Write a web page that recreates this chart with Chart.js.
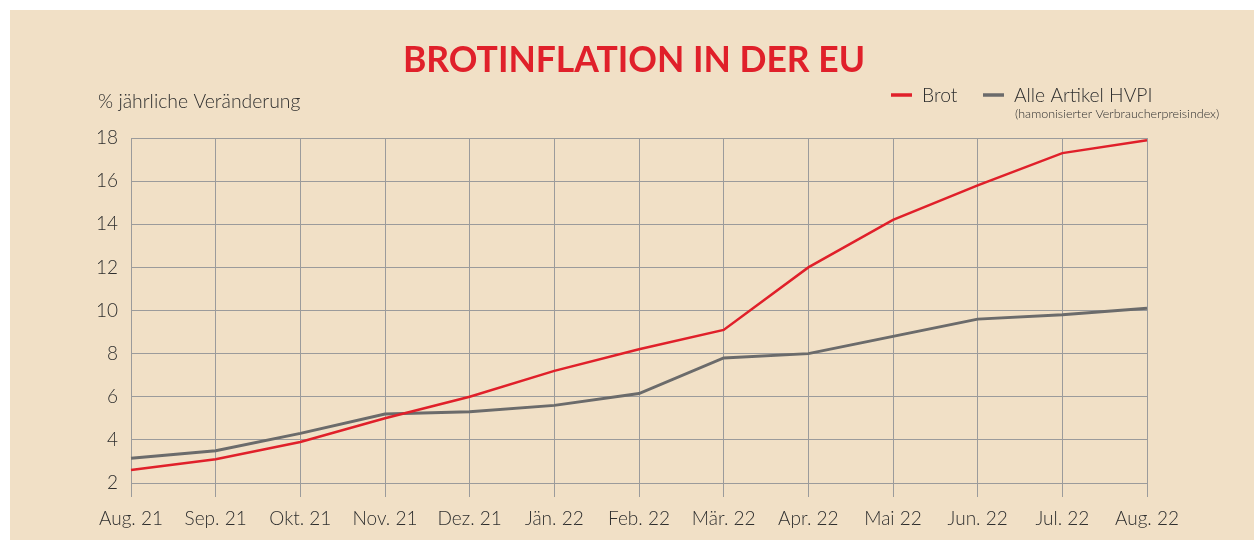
<!DOCTYPE html>
<html>
<head>
<meta charset="utf-8">
<script src="https://cdn.jsdelivr.net/npm/chart.js@4"></script>
<style>
  html, body { margin: 0; padding: 0; background: #fff; }
  #wrap { width: 1254px; height: 543px; }
</style>
</head>
<body>
<div id="wrap"><canvas id="chart" width="1254" height="543"></canvas></div>
<script>
const months = ["Aug. 21", "Sep. 21", "Okt. 21", "Nov. 21", "Dez. 21", "Jän. 22", "Feb. 22",
  "Mär. 22", "Apr. 22", "Mai 22", "Jun. 22", "Jul. 22", "Aug. 22"]
const brot = [2.6, 3.1, 3.9, 5.0, 6.0, 7.2, 8.2, 9.1, 12.0, 14.2, 15.8, 17.3, 17.9]
const hvpi = [3.15, 3.5, 4.3, 5.2, 5.3, 5.6, 6.15, 7.8, 8.0, 8.8, 9.6, 9.8, 10.1]
const yTicks = [2, 4, 6, 8, 10, 12, 14, 16, 18]

const RED = "#e0202a"
const GREY = "#6b6b6b"
const TEXT = "#2e2e2e"
const FONT = "Lato, 'Open Sans', sans-serif"

const decor = {
  id: "decor",
  beforeDraw(chart) {
    const ctx = chart.ctx
    ctx.save()
    ctx.fillStyle = "#fff"
    ctx.fillRect(0, 0, chart.width, chart.height)
    ctx.fillStyle = "#f1e0c6"
    ctx.fillRect(10, 10, chart.width - 10, 530)
    ctx.restore()
  },
  afterDraw(chart) {
    const ctx = chart.ctx
    ctx.save()
    ctx.textBaseline = "middle"
    // title
    ctx.fillStyle = RED
    ctx.font = "bold 35.5px " + FONT
    ctx.textAlign = "center"
    ctx.fillText("BROTINFLATION IN DER EU", 634, 61)
    // axis label
    ctx.fillStyle = TEXT
    ctx.font = "300 19.4px " + FONT
    ctx.textAlign = "left"
    ctx.fillText("% jährliche Veränderung", 98, 102)
    // legend
    const items = [
      { x: 891, label: chart.data.datasets[0].label, color: chart.data.datasets[0].borderColor },
      { x: 983, label: chart.data.datasets[1].label, color: chart.data.datasets[1].borderColor },
    ]
    items.forEach(it => {
      ctx.strokeStyle = it.color
      ctx.lineWidth = 3.5
      ctx.beginPath()
      ctx.moveTo(it.x, 95)
      ctx.lineTo(it.x + 21, 95)
      ctx.stroke()
      ctx.fillStyle = TEXT
      ctx.font = "300 19.3px " + FONT
      ctx.fillText(it.label, it.x + 31, 96)
    })
    ctx.font = "300 12.5px " + FONT
    ctx.fillText("(hamonisierter Verbraucherpreisindex)", 1015, 114)
    ctx.restore()
  },
}

new Chart(document.getElementById("chart"), {
  type: "line",
  data: {
    labels: months,
    datasets: [
      { label: "Brot", data: brot, borderColor: RED, borderWidth: 2.5 },
      { label: "Alle Artikel HVPI", data: hvpi, borderColor: GREY, borderWidth: 3 },
    ],
  },
  options: {
    responsive: false,
    animation: false,
    layout: { padding: { left: 0, top: 138, right: 107, bottom: 0 } },
    elements: { point: { radius: 0 }, line: { tension: 0, borderCapStyle: "butt" } },
    plugins: { legend: { display: false }, title: { display: false }, tooltip: { enabled: false } },
    scales: {
      x: {
        offset: false,
        grid: { color: "#9b9b9b", lineWidth: 1, tickLength: 14, drawTicks: true },
        border: { display: false },
        ticks: { color: TEXT, font: { family: FONT, size: 19, weight: 300 }, padding: 10, maxRotation: 0, autoSkip: false },
        afterFit(scale) { scale.height = 60 },
      },
      y: {
        min: 2,
        max: 18,
        afterBuildTicks(scale) { scale.ticks = yTicks.map(v => ({ value: v })) },
        grid: { color: "#9b9b9b", lineWidth: 1, tickLength: 0, drawTicks: false },
        border: { display: false },
        ticks: { color: TEXT, font: { family: FONT, size: 19, weight: 300 }, padding: 13 },
        afterFit(scale) { scale.width = 131 },
      },
    },
  },
  plugins: [decor],
})
</script>
</body>
</html>
